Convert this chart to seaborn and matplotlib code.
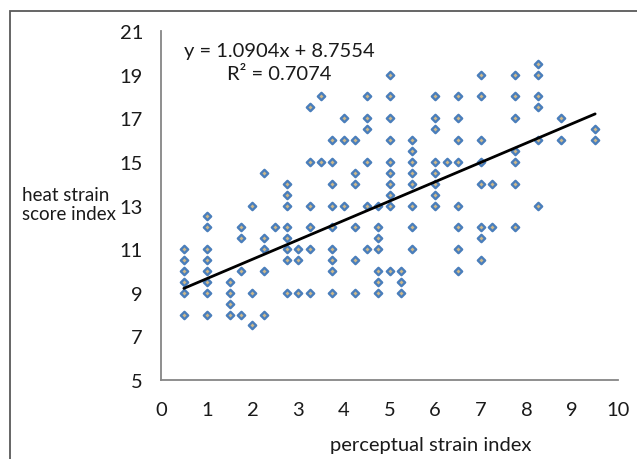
import matplotlib
matplotlib.use("Agg")
import matplotlib.pyplot as plt
import matplotlib.patches as patches
import pandas as pd
import seaborn as sns

# one entry per point (x steps of 0.25, y steps of 0.5)
perceptual_strain = (
    [0.5] * 6 + [1] * 8 + [1.5] * 4 + [1.75] * 4 + [2] * 3 + [2.25] * 5 + [2.5]
    + [2.75] * 8 + [3] * 3 + [3.25] * 6 + [3.5] * 2 + [3.75] * 9 + [4] * 3
    + [4.25] * 6 + [4.5] * 6 + [4.75] * 7 + [5] * 10 + [5.25] * 3 + [5.5] * 8
    + [6] * 8 + [6.25] + [6.5] * 8 + [7] * 8 + [7.25] * 2 + [7.75] * 7
    + [8.25] * 6 + [8.75] * 2 + [9.5] * 2
)
heat_strain = [
    11, 10.5, 10, 9.5, 9, 8,
    12.5, 12, 11, 10.5, 10, 9.5, 9, 8,
    9.5, 9, 8.5, 8,
    12, 11.5, 10, 8,
    13, 9, 7.5,
    14.5, 11.5, 11, 10, 8,
    12,
    14, 13.5, 13, 12, 11.5, 11, 10.5, 9,
    11, 10.5, 9,
    17.5, 15, 13, 12, 11, 9,
    18, 15,
    16, 15, 14, 13, 12, 11, 10.5, 10, 9,
    17, 16, 13,
    16, 14.5, 14, 12, 10.5, 9,
    18, 17, 16.5, 15, 13, 11,
    13, 12, 11.5, 11, 10, 9.5, 9,
    19, 18, 17, 16, 15, 14.5, 14, 13.5, 13, 10,
    10, 9.5, 9,
    16, 15.5, 15, 14.5, 14, 13, 12, 11,
    18, 17, 16.5, 15, 14.5, 14, 13.5, 13,
    15,
    18, 17, 16, 15, 13, 12, 11, 10,
    19, 18, 16, 15, 14, 12, 11.5, 10.5,
    14, 12,
    19, 18, 17, 15.5, 15, 14, 12,
    19.5, 19, 18, 17.5, 16, 13,
    17, 16,
    16.5, 16,
]

# trend line as drawn on the chart
trend_x = [0.5, 9.5]
trend_y = [9.2, 17.2]

equation = "y = 1.0904x + 8.7554\nR² = 0.7074"
x_ticks = list(range(0, 11))
y_ticks = list(range(5, 22, 2))

data = pd.DataFrame({"psi": perceptual_strain, "hssi": heat_strain})

sns.set_style("white")
plt.rcParams["font.family"] = ["Lato", "DejaVu Sans"]

FS = 14.5
TXT = "#1a1a1a"

fig = plt.figure(figsize=(6.37, 4.60), dpi=100)
ax = fig.add_axes([161 / 637, 1 - 381 / 460, 457 / 637, 349 / 460])

sns.scatterplot(data=data, x="psi", y="hssi", ax=ax, marker="D", s=14,
                color="#cdb88a", edgecolor="#4a7ebb", linewidth=1.7, zorder=3)
ax.plot(trend_x, trend_y, color="black", linewidth=2, zorder=4)

ax.set_xlim(0, 10)
ax.set_ylim(5, 21)
ax.set_xticks(x_ticks)
ax.set_yticks(y_ticks)

for side in ["top", "right"]:
    ax.spines[side].set_visible(False)
for side in ["left", "bottom"]:
    ax.spines[side].set_color("#868686")
    ax.spines[side].set_linewidth(1.3)
ax.tick_params(direction="out", length=5, width=1.3, color="#868686",
               labelsize=FS, labelcolor=TXT)
ax.tick_params(axis="x", pad=10)
ax.tick_params(axis="y", pad=8)

ax.set_xlabel("perceptual strain index", fontsize=FS, color=TXT)
ax.xaxis.set_label_coords((431 - 161) / 457, (381 - 437) / 349)
ax.set_ylabel("heat strain\nscore index", fontsize=13.5, color=TXT,
              rotation=0, ha="left", va="center", multialignment="left")
ax.yaxis.set_label_coords((22 - 161) / 457, (381 - 205) / 349)

ax.text((279 - 161) / 457, (381 - 63) / 349, equation, transform=ax.transAxes,
        ha="center", va="center", fontsize=FS, color=TXT, linespacing=1.5)

# chart-area frame, cut off at the right and bottom like the original
fig.patches.append(patches.Rectangle((10 / 637, -0.1), 1.2, 1.1 - 12 / 460,
                                     transform=fig.transFigure, fill=False,
                                     edgecolor="#595959", linewidth=1.3))

fig.savefig("out.png", dpi=100)
